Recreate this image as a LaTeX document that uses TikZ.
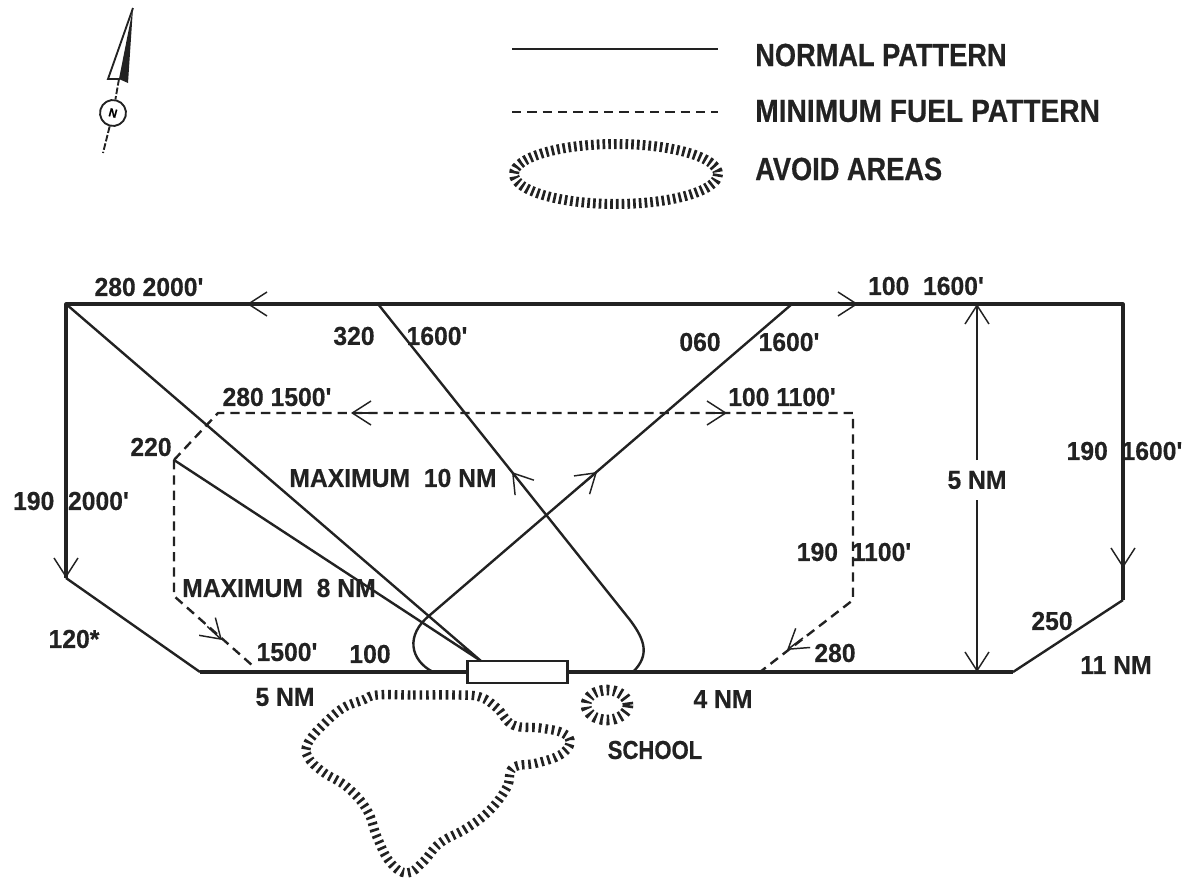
\documentclass[tikz,border=0pt]{standalone}
\usepackage{fontspec}
\usetikzlibrary{arrows.meta,calc}
\newfontfamily\labfont[FakeStretch=0.95,FakeBold=0.4]{Liberation Sans}
\newfontfamily\legfont[FakeStretch=0.85,FakeBold=0.5]{Liberation Sans}
\newfontfamily\legwide[FakeStretch=0.88,FakeBold=0.5]{Liberation Sans}
\definecolor{ink}{HTML}{222222}
\tikzset{
  lbl/.style={text=ink,inner sep=0pt,font=\labfont\bfseries\fontsize{19.5}{22}\selectfont},
  leg/.style={text=ink,inner sep=0pt,anchor=west,font=\legfont\bfseries\fontsize{24}{27}\selectfont},
  heavy/.style={draw=ink,line width=2.3pt,line join=round},
  thin line/.style={draw=ink,line width=1.8pt,line join=round},
  dashline/.style={draw=ink,line width=1.8pt,dash pattern=on 7pt off 4.5pt,line join=round},
  hd/.style={draw=ink,line width=1.1pt,solid,-{Straight Barb[length=14pt,width=18pt,line width=1.1pt]}},
  hatch/.style={draw=ink,line width=7pt,dash pattern=on 2pt off 2.9pt},
}
\newcommand\headto[2]{\draw[hd] ($(#2)!15pt!(#1)$) -- (#2);}
\begin{document}
\begin{tikzpicture}[x=0.75pt,y=-0.75pt]
\useasboundingbox (0,0) rectangle (1186,882);
% waypoints
\coordinate (tl) at (66,304);
\coordinate (tr) at (1123,304);
\coordinate (lb) at (66,578);
\coordinate (bl) at (200,672);
\coordinate (br) at (1013,672);
\coordinate (rb) at (1123,600);
\coordinate (dim1) at (977,304);
\coordinate (dim2) at (977,672);
\coordinate (p320) at (378,304);
\coordinate (p060) at (792,304);
\coordinate (q320) at (630,620);
\coordinate (q060) at (430,615);
\coordinate (rwyapp) at (481,661);
\coordinate (w220) at (174,460);
\coordinate (dtl) at (218,413);
\coordinate (dtr) at (853,413);
\coordinate (drb) at (853,600);
\coordinate (dbr) at (760,672);
\coordinate (dlb) at (174,596);
\coordinate (dbl) at (253,666);
\coordinate (h1) at (247,304);
\coordinate (h2) at (858,304);
\coordinate (h3) at (66,578);
\coordinate (h4) at (1123,568);
\coordinate (h5) at (351,413);
\coordinate (h6) at (727,413);
\coordinate (h7) at (222,640);
\coordinate (h8) at (787,650);
\coordinate (h9) at (512,472);
\coordinate (h10) at (597,472);
% runway
\node[draw=ink,fill=white,line width=1.6pt,minimum width=75pt,minimum height=16.5pt,inner sep=0pt] (rwy) at (517.5,672) {};
% normal pattern
\draw[heavy] (rwy.west) -- (bl);
\draw[thin line] (bl) -- (lb);
\draw[heavy] (lb) -- (tl) -- (tr) -- (rb);
\draw[thin line] (rb) -- (br);
\draw[heavy] (br) -- (rwy.east);
\draw[thin line] (tl) -- (rwyapp) -- (w220);
\draw[thin line] (p320) -- (q320) .. controls (645,640) and (650,655) .. (633,672);
\draw[thin line] (p060) -- (q060) .. controls (405,635) and (410,660) .. (433,672);
% minimum fuel pattern
\draw[dashline] (w220) -- (dtl) -- (dtr) -- (drb) -- (dbr);
\draw[dashline] (w220) -- (dlb) -- (dbl);
% arrowheads
\headto{p320}{h1}
\headto{p060}{h2}
\headto{tl}{h3}
\headto{tr}{h4}
\headto{dtr}{h5}
\headto{dtl}{h6}
\headto{dlb}{h7}
\headto{drb}{h8}
\headto{q320}{h9}
\headto{q060}{h10}
% dimension
\node[lbl,inner xsep=2pt,inner ysep=8pt] (five) at (977,480) {5 NM};
\draw[hd,line width=1.8pt] (five) -- (dim1);
\draw[hd,line width=1.8pt] (five) -- (dim2);
% avoid areas
\draw[hatch] plot[smooth cycle,tension=.7] coordinates {(377,695) (413,695) (457,695) (480,697) (497,708) (513,725) (540,728) (563,733) (570,743) (560,755) (537,763) (513,768) (507,787) (490,810) (467,828) (440,843) (423,862) (407,873) (390,862) (377,837) (367,810) (347,787) (323,772) (308,757) (308,743) (323,725) (343,708) (363,700)};
\draw[hatch,line width=8pt] (607,705) ellipse [x radius=21,y radius=15];
% legend
\coordinate (l1a) at (512,49);
\coordinate (l1b) at (718,49);
\coordinate (l2a) at (512,112);
\coordinate (l2b) at (718,112);
\draw[thin line] (l1a) -- (l1b);
\draw[dashline] (l2a) -- (l2b);
\draw[hatch,line width=7.5pt,dash pattern=on 2pt off 2.3pt] (616,174) ellipse [x radius=102,y radius=30];
\node[leg] (t1) at (755,55) {NORMAL PATTERN};
\node[leg,font=\legwide\bfseries\fontsize{24}{27}\selectfont] (t2) at (755,111) {MINIMUM FUEL PATTERN};
\node[leg] (t3) at (755,169) {AVOID AREAS};
% north arrow
\coordinate (ntip) at (133,8);
\coordinate (nleft) at (108,79);
\coordinate (nright) at (128,83);
\coordinate (nnotch) at (119,79);
\coordinate (ntail) at (103,153);
\node[draw=ink,circle,line width=1.4pt,minimum size=19.5pt,inner sep=0pt,font=\labfont\bfseries\fontsize{9}{9}\selectfont,rotate=-15] (ncirc) at (113,113) {N};
\fill[ink] (ntip) -- (nright) -- (nnotch) -- cycle;
\draw[ink,line width=1.4pt] (ntip) -- (nleft) -- (nnotch);
\draw[ink,line width=1.4pt,dash pattern=on 5pt off 1.5pt] (nnotch) -- (ncirc);
\draw[ink,line width=1.4pt,dash pattern=on 5pt off 1.5pt] (ncirc) -- (ntail);
% labels
\node[lbl] (a1) at (149,287) {280 2000'};
\node[lbl] (a2) at (354,336) {320};
\node[lbl] (a3) at (437,336) {1600'};
\node[lbl] (a4) at (700,342) {060};
\node[lbl] (a5) at (789,342) {1600'};
\node[lbl] (a6) at (926,286) {100\ \ 1600'};
\node[lbl] (a7) at (277,397) {280 1500'};
\node[lbl] (a8) at (782,397) {100 1100'};
\node[lbl] (a9) at (151,447) {220};
\node[lbl] (a10) at (393,478) {MAXIMUM\ \ 10 NM};
\node[lbl] (a11) at (71,501) {190\ \ 2000'};
\node[lbl] (a12) at (1124.5,451) {190\ \ 1600'};
\node[lbl] (a13) at (854,552) {190\ \ 1100'};
\node[lbl] (a14) at (279,588) {MAXIMUM\ \ 8 NM};
\node[lbl] (a15) at (74,639) {120*};
\node[lbl] (a16) at (287,652) {1500'};
\node[lbl] (a17) at (370,654) {100};
\node[lbl] (a18) at (835,653) {280};
\node[lbl] (a19) at (1052,621) {250};
\node[lbl] (a20) at (1116,665) {11 NM};
\node[lbl] (a21) at (285,697) {5 NM};
\node[lbl] (a22) at (723,699) {4 NM};
\node[lbl,font=\legfont\bfseries\fontsize{19.5}{22}\selectfont] (a23) at (655,750) {SCHOOL};
\end{tikzpicture}
\end{document}
